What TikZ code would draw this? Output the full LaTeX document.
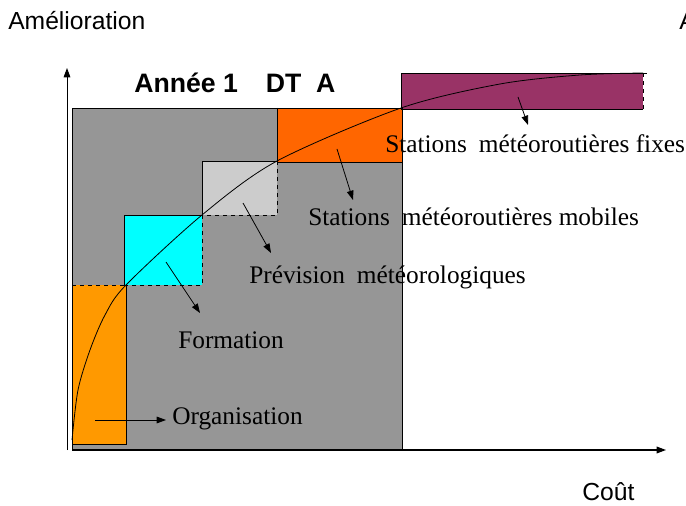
\documentclass[tikz,border=0pt]{standalone}
\usepackage{fontspec}
\setmainfont{Liberation Serif}
\setsansfont{Liberation Sans}
\usetikzlibrary{arrows.meta}
\definecolor{graybg}{HTML}{969696}
\definecolor{lightbox}{HTML}{CCCCCC}
\definecolor{cyanbox}{HTML}{00FFFF}
\definecolor{redorange}{HTML}{FF6600}
\definecolor{lightorange}{HTML}{FF9900}
\definecolor{plum}{HTML}{993366}
\begin{document}
\begin{tikzpicture}[x=0.75pt,y=-0.75pt,
  lbl/.style={font=\fontsize{19}{22}\selectfont, inner sep=0pt, anchor=base west},
  sanslbl/.style={font=\sffamily\fontsize{18.5}{22}\selectfont, inner sep=0pt, anchor=base west},
  pointer/.style={-{Triangle[length=7pt,width=5pt]}, line width=0.6pt},
  edge/.style={line width=0.5pt}]
\useasboundingbox (0,0) rectangle (686,506);
% gray background
\fill[graybg] (72,108) rectangle (402,449);
% boxes
\fill[redorange] (277,108) rectangle (402,162);
\fill[lightbox] (202,161) rectangle (277,215);
\fill[cyanbox] (124,215) rectangle (202,285);
\fill[lightorange] (72,285) rectangle (126,444);
\fill[plum] (401,73) rectangle (643,109);
% edges
\draw[edge] (72,108) rectangle (402,449);
\draw[edge] (277,108) -- (277,162) -- (402,162);
\draw[edge] (202,215) -- (202,161) -- (277,161);
\draw[edge,dashed] (277,161) -- (277,215) -- (202,215);
\draw[edge] (124,285) -- (124,215) -- (202,215);
\draw[edge,dashed] (202,215) -- (202,285) -- (124,285);
\draw[edge,dashed] (72,285) -- (126,285);
\draw[edge] (126,285) -- (126,444) -- (72,444);
\draw[edge] (401,109) -- (401,73) -- (647,73);
\draw[edge] (401,109) -- (643,109);
\draw[edge,dashed] (643,73) -- (643,109);
% axes
\coordinate (origin) at (67,450);
\coordinate (ytip) at (67,68);
\coordinate (xtip) at (666,450);
\draw[pointer,line width=0.7pt] (origin) -- (ytip);
\draw[pointer,line width=0.9pt] (72,450) -- (xtip);
% curve
\draw[line width=0.6pt] plot[smooth,tension=0.5] coordinates {(72,440) (78,390) (90,350) (105,315) (126,285) (202,215) (277,161) (401,108) (500,84) (580,75) (643,73)};
% labels
\node[sanslbl] (amel) at (8,30) {Amélioration};
\node[sanslbl] (acut) at (679,30) {A};
\node[sanslbl] (cout) at (582,500) {Coût};
\node[font=\sffamily\bfseries\fontsize{20}{24}\selectfont, inner sep=0pt, anchor=base west] (title) at (134,93) {Année 1\hspace{21pt}DT\hspace{11pt}A};
\node[lbl] (fixes) at (385,153) {Stations\hspace{9pt}météoroutières fixes};
\node[lbl] (mobiles) at (308,226) {Stations\hspace{9pt}météoroutières mobiles};
\node[lbl] (prev) at (249,284) {Prévision\hspace{9pt}météorologiques};
\node[lbl] (form) at (178,349) {Formation};
\node[lbl] (org) at (172,424) {Organisation};
% pointers
\coordinate (p1) at (518,97);  \coordinate (p1e) at (528,125);
\coordinate (p2) at (337,149); \coordinate (p2e) at (353,200);
\coordinate (p3) at (243,203); \coordinate (p3e) at (271,253);
\coordinate (p4) at (166,262); \coordinate (p4e) at (200,313);
\coordinate (p5) at (95,420);  \coordinate (p5e) at (166,420);
\draw[pointer] (p1) -- (p1e);
\draw[pointer] (p2) -- (p2e);
\draw[pointer] (p3) -- (p3e);
\draw[pointer] (p4) -- (p4e);
\draw[pointer] (p5) -- (p5e);
\end{tikzpicture}
\end{document}
